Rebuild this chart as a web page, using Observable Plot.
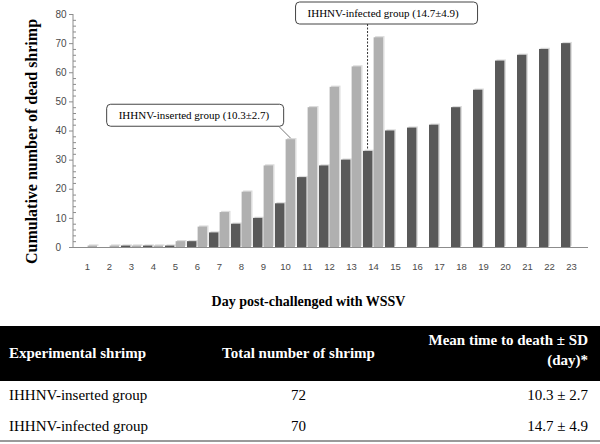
<!DOCTYPE html>
<html><head><meta charset="utf-8">
<script src="https://cdn.jsdelivr.net/npm/d3@7"></script>
<script src="https://cdn.jsdelivr.net/npm/@observablehq/plot@0.6"></script>
<style>
body{margin:0;width:600px;height:444px;position:relative;background:#fff;overflow:hidden;font-family:'Liberation Serif','Times New Roman',serif}
#chart{position:absolute;left:0;top:0}
#table{position:absolute;left:0;top:0;width:600px;height:444px}
.cell{position:absolute;white-space:nowrap;line-height:1;font-family:'Liberation Serif','Times New Roman',serif}
.hdr{position:absolute;left:0;width:600px;background:#000}
.rule{position:absolute;left:0;width:600px;background:#9a9a9a}
</style></head>
<body>
<div id="chart"></div>
<div id="table"></div>
<script>
// ---- data ----
const days = [1,2,3,4,5,6,7,8,9,10,11,12,13,14,15,16,17,18,19,20,21,22,23];
const insertedDead = [0.5,0.5,0.5,0.5,2,7,12,19,28,37,48,55,62,72];
const infectedDead = [0,0,0.5,0.5,0.5,2,5,8,10,15,24,28,30,33,40,41,42,48,54,64,66,68,70];
const yTicks = [0,10,20,30,40,50,60,70,80];
const yMinorTicks = [2,4,6,8,12,14,16,18,22,24,26,28,32,34,36,38,42,44,46,48,52,54,56,58,62,64,66,68,72,74,76,78];
const yTitle = "Cumulative number of dead shrimp";
const xTitle = "Day post-challenged with WSSV";
const calloutText = ["IHHNV-inserted group (10.3±2.7)", "IHHNV-infected group (14.7±4.9)"];
const calloutMean = [10.3, 14.7];
const tableHeaders = ["Experimental shrimp", "Total number of shrimp", "Mean time to death ± SD", "(day)*"];
const groups = ["IHHNV-inserted group", "IHHNV-infected group"];
const totals = [72, 70];
const meanTTD = ["10.3 ± 2.7", "14.7 ± 4.9"];

const DARK = "#595959", LIGHT = "#b0b0b0", SHADOW = "#dcdcdc";

const ins = insertedDead.map((v,i)=>({day: days[i], value: v})).filter(d=>d.value>0);
const inf = infectedDead.map((v,i)=>({day: days[i], value: v})).filter(d=>d.value>0);

const W = 600, H = 312, ML = 73, MR = 16, MT = 14, MB = 65;
const bw = (W - ML - MR) / days.length;
const half = bw / 2;

const plot = Plot.plot({
  width: W, height: H, marginLeft: ML, marginRight: MR, marginTop: MT, marginBottom: MB,
  style: {fontFamily: "'Liberation Sans', Arial, sans-serif", fontSize: "9.5px", color: "#4a4a4a", background: "#fff"},
  x: {type: "band", domain: days, padding: 0, label: null},
  y: {domain: [0, 80], label: null, axis: null},
  marks: [
    Plot.barY(inf, {x: "day", y: "value", fill: SHADOW, insetLeft: 1, insetRight: half + 0.5, dx: 1.5, dy: -1.2}),
    Plot.barY(ins, {x: "day", y: "value", fill: SHADOW, insetLeft: half + 0.5, insetRight: 1, dx: 1.5, dy: -1.2}),
    Plot.barY(inf, {x: "day", y: "value", fill: DARK, insetLeft: 1, insetRight: half + 0.5}),
    Plot.barY(ins, {x: "day", y: "value", fill: LIGHT, insetLeft: half + 0.5, insetRight: 1}),
    Plot.ruleY([0], {stroke: "#8c8c8c", insetRight: -4}),
    Plot.ruleY(yMinorTicks, {y: d => d, stroke: "#8c8c8c", insetLeft: 0, insetRight: (W - ML - MR) - 3}),
    Plot.ruleY(yTicks, {y: d => d, stroke: "#8c8c8c", insetLeft: -4, insetRight: (W - ML - MR)}),
    Plot.axisX({tickSize: 0, tickPadding: 16}),
    Plot.text(yTicks, {y: d => d, text: d => String(d), frameAnchor: "left", textAnchor: "start",
      dx: -18, fontSize: 10, fill: "#4a4a4a"})
  ]
});
document.getElementById("chart").appendChild(plot);

const sx = plot.scale("x"), sy = plot.scale("y");
const svg = d3.select(plot);

svg.append("line").attr("x1", ML).attr("x2", ML).attr("y1", sy.apply(80)).attr("y2", sy.apply(0))
  .attr("stroke", "#8c8c8c");

const serif = "'Liberation Serif', 'Times New Roman', serif";
svg.append("text").text(yTitle)
  .attr("transform", `translate(31,${(sy.apply(0)+sy.apply(80))/2 + 11}) rotate(-90)`)
  .attr("text-anchor", "middle").attr("dominant-baseline", "central")
  .attr("font-family", serif).attr("font-weight", "bold").attr("font-size", 16).attr("fill", "#000");
svg.append("text").text(xTitle)
  .attr("x", (ML + W - MR) / 2 - 20).attr("y", 301)
  .attr("text-anchor", "middle").attr("dominant-baseline", "central")
  .attr("font-family", serif).attr("font-weight", "bold").attr("font-size", 14).attr("fill", "#000");

function callout(text, ax, ay, boxLeft, boxTop, boxW, dashed, lx) {
  const boxH = 22;
  svg.append("rect").attr("x", boxLeft).attr("y", boxTop).attr("width", boxW).attr("height", boxH)
    .attr("rx", 4).attr("fill", "#fff").attr("stroke", "#444").attr("stroke-width", 1);
  svg.append("text").text(text).attr("x", boxLeft + 12).attr("y", boxTop + boxH/2)
    .attr("text-anchor", "start").attr("dominant-baseline", "central")
    .attr("font-family", serif).attr("font-size", 11).attr("fill", "#000");
  const ln = svg.append("line").attr("x1", lx).attr("y1", boxTop + boxH).attr("x2", ax).attr("y2", ay)
    .attr("stroke", dashed ? "#333" : "#777").attr("stroke-width", 1);
  if (dashed) ln.attr("stroke-dasharray", "2,1.5");
}
const d1 = Math.round(calloutMean[0]);
const a1x = sx.apply(d1) + bw * 0.75, a1y = sy.apply(insertedDead[days.indexOf(d1)]);
callout(calloutText[0], a1x, a1y - 1, a1x - 184, a1y - 35, 177, false, a1x - 12);
const d2 = Math.floor(calloutMean[1]);
const a2x = sx.apply(d2) + bw * 0.25, a2y = sy.apply(infectedDead[days.indexOf(d2)]);
callout(calloutText[1], a2x, a2y - 1, a2x - 72, 2, 182, true, a2x);

// ---- table ----
const T = document.getElementById("table");
function add(cls, css, text) {
  const e = document.createElement("div"); e.className = cls; e.style.cssText = css;
  if (text != null) e.textContent = text; T.appendChild(e); return e;
}
add("hdr", "top:326px;height:55px;");
const hs = "color:#fff;font-weight:bold;font-size:15px;";
add("cell", hs + "left:9px;top:346px;", tableHeaders[0]);
add("cell", hs + "left:0;width:597px;text-align:center;top:346px;", tableHeaders[1]);
add("cell", hs + "right:12px;top:333px;text-align:right;", tableHeaders[2]);
add("cell", hs + "right:12px;top:353px;text-align:right;", tableHeaders[3]);
const rowTops = [388, 419];
groups.forEach((g, i) => {
  const rs = "color:#000;font-size:15px;top:" + rowTops[i] + "px;";
  add("cell", rs + "left:9px;", g);
  add("cell", rs + "left:0;width:597px;text-align:center;", String(totals[i]));
  add("cell", rs + "right:12px;text-align:right;", meanTTD[i]);
});
add("rule", "top:440px;height:2px;");
</script>
</body></html>
